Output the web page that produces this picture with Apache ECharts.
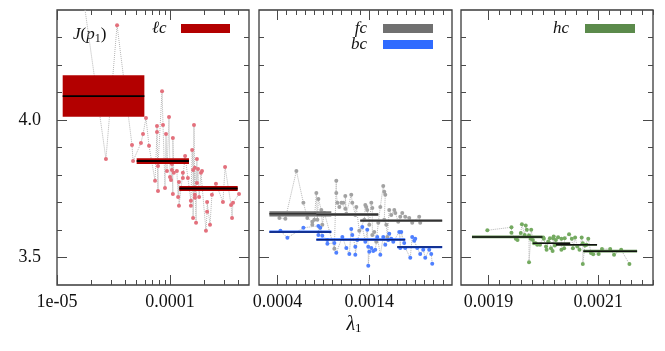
<!DOCTYPE html>
<html>
<head>
<meta charset="utf-8">
<script src="https://cdn.jsdelivr.net/npm/echarts@6/dist/echarts.min.js"></script>
<style>
html, body { margin: 0; padding: 0; background: #fff; }
#main { width: 665px; height: 351px; }
</style>
</head>
<body>
<div id="main"></div>
<script>
// J(p1) against lambda_1 for the lc, fc/bc and hc runs

// points: [lambda_1, J]
var lcPoints = [
  [1.6e-5,4.53],[2.71e-5,3.858],[3.40e-5,4.345],[4.61e-5,3.909],[4.71e-5,3.851],[5.53e-5,3.916],
  [5.77e-5,3.949],[6.13e-5,4.007],[6.52e-5,3.906],[7.37e-5,3.779],[7.67e-5,3.956],[7.67e-5,3.978],
  [7.83e-5,3.742],[7.83e-5,3.833],[8.50e-5,4.105],[8.67e-5,3.982],[9.03e-5,3.753],[9.22e-5,3.949],
  [9.40e-5,3.815],[9.80e-5,4.011],[1.00e-4,3.793],[1.02e-4,3.782],[1.04e-4,3.818],[1.04e-4,3.840],
  [1.06e-4,3.731],[1.06e-4,3.935],[1.08e-4,3.808],[1.15e-4,3.815],[1.18e-4,3.720],[1.20e-4,3.775],
  [1.20e-4,3.688],[1.30e-4,3.808],[1.30e-4,3.789],[1.36e-4,3.869],[1.44e-4,3.789],[1.53e-4,3.706],
  [1.53e-4,3.688],[1.57e-4,3.891],[1.60e-4,3.818],[1.60e-4,3.644],[1.63e-4,3.982],[1.66e-4,3.717],
  [1.66e-4,3.728],[1.66e-4,3.826],[1.70e-4,3.626],[1.73e-4,3.858],[1.73e-4,3.771],[1.77e-4,3.822],
  [1.81e-4,3.720],[1.88e-4,3.808],[1.92e-4,3.815],[2.08e-4,3.597],[2.13e-4,3.666],[2.13e-4,3.702],
  [2.26e-4,3.619],[2.35e-4,3.728],[2.55e-4,3.768],[2.94e-4,3.702],[3.07e-4,3.829],[3.47e-4,3.691],
  [3.54e-4,3.644],[3.61e-4,3.699],[4.08e-4,3.731]
];
var fcPoints = [
  [0.000422,3.644],[0.000487,3.641],[0.000607,3.815],[0.000683,3.699],[0.000726,3.644],[0.000780,3.630],
  [0.000780,3.619],[0.000802,3.637],[0.000824,3.735],[0.000835,3.637],[0.000846,3.713],[0.000878,3.673],
  [0.000889,3.619],[0.000911,3.662],[0.001020,3.532],[0.001041,3.779],[0.001041,3.735],[0.001052,3.699],
  [0.001074,3.684],[0.001096,3.699],[0.001117,3.699],[0.001139,3.677],[0.001139,3.724],[0.001150,3.659],
  [0.001204,3.728],[0.001215,3.699],[0.001248,3.655],[0.001259,3.684],[0.001291,3.597],[0.001346,3.637],
  [0.001357,3.691],[0.001367,3.684],[0.001378,3.673],[0.001400,3.619],[0.001422,3.699],[0.001433,3.680],
  [0.001433,3.582],[0.001454,3.593],[0.001476,3.557],[0.001498,3.626],[0.001520,3.684],[0.001552,3.760],
  [0.001563,3.739],[0.001574,3.728],[0.001563,3.637],[0.001585,3.619],[0.001596,3.575],[0.001617,3.673],
  [0.001639,3.655],[0.001672,3.673],[0.001683,3.662],[0.001715,3.630],[0.001737,3.648],[0.001759,3.662],
  [0.001791,3.648],[0.001835,3.644],[0.001867,3.626],[0.001943,3.648],[0.001954,3.626]
];
var bcPoints = [
  [0.000433,3.597],[0.000509,3.572],[0.000683,3.608],[0.000846,3.615],[0.000846,3.582],[0.000867,3.608],
  [0.000889,3.579],[0.000944,3.564],[0.000944,3.550],[0.001020,3.553],[0.001041,3.517],[0.001107,3.575],
  [0.001150,3.535],[0.001183,3.513],[0.001204,3.604],[0.001215,3.582],[0.001248,3.539],[0.001248,3.510],
  [0.001270,3.564],[0.001324,3.611],[0.001357,3.557],[0.001378,3.601],[0.001389,3.539],[0.001389,3.470],
  [0.001400,3.521],[0.001422,3.535],[0.001443,3.524],[0.001465,3.528],[0.001487,3.575],[0.001520,3.510],
  [0.001552,3.575],[0.001574,3.546],[0.001607,3.564],[0.001617,3.586],[0.001639,3.568],[0.001661,3.557],
  [0.001726,3.593],[0.001737,3.535],[0.001748,3.593],[0.001780,3.553],[0.001791,3.535],[0.001846,3.499],
  [0.001867,3.575],[0.001889,3.561],[0.001900,3.568],[0.001922,3.535],[0.001954,3.513],[0.001987,3.528],
  [0.002009,3.499],[0.002052,3.528],[0.002074,3.513],[0.002085,3.477]
];
var hcPoints = [
  [0.001898,3.599],[0.001942,3.610],[0.001942,3.590],[0.001950,3.568],[0.001953,3.564],[0.001959,3.589],
  [0.001961,3.621],[0.001966,3.582],[0.001968,3.616],[0.001970,3.601],[0.001974,3.580],[0.001974,3.483],
  [0.001977,3.568],[0.001978,3.601],[0.001981,3.564],[0.001983,3.552],[0.001986,3.552],[0.001989,3.546],
  [0.001994,3.546],[0.002000,3.573],[0.002001,3.568],[0.002005,3.540],[0.002006,3.528],[0.002009,3.558],
  [0.002012,3.570],[0.002014,3.534],[0.002017,3.524],[0.002018,3.570],[0.002019,3.576],[0.002021,3.544],
  [0.002023,3.564],[0.002027,3.574],[0.002033,3.568],[0.002033,3.528],[0.002038,3.534],[0.002039,3.570],
  [0.002047,3.585],[0.002052,3.568],[0.002054,3.534],[0.002058,3.573],[0.002062,3.540],[0.002066,3.528],
  [0.002070,3.573],[0.002072,3.552],[0.002072,3.476],[0.002076,3.544],[0.002079,3.546],[0.002082,3.568],
  [0.002087,3.516],[0.002091,3.512],[0.002101,3.513],[0.002107,3.531],[0.002122,3.531],[0.002129,3.510],
  [0.002142,3.528],[0.002157,3.476]
];

// bins: [from, to, low, mean, high]
var lcBins = [
  [1.123e-5, 5.93e-5, 4.012, 4.087, 4.163],
  [5.07e-5, 1.472e-4, 3.840, 3.851, 3.861],
  [1.208e-4, 3.97e-4, 3.742, 3.751, 3.760]
];
var fcBins = [
  [0.000313, 0.000987, 3.649, 3.659, 3.668],
  [0.000824, 0.001498, 3.651, 3.656, 3.662],
  [0.001302, 0.002193, 3.630, 3.634, 3.639]
];
var bcBins = [
  [0.000313, 0.000987, 3.589, 3.593, 3.598],
  [0.000824, 0.001791, 3.561, 3.565, 3.570],
  [0.001704, 0.002193, 3.534, 3.538, 3.542]
];
var hcBins = [
  [0.001870, 0.0019985, 3.570, 3.575, 3.580],
  [0.001981, 0.002049, 3.549, 3.552, 3.555],
  [0.002023, 0.002098, 3.543, 3.546, 3.549],
  [0.002073, 0.002171, 3.518, 3.523, 3.528]
];

// ticks
var yTicks = [3.5, 4.0];
var yTickLabels = ['3.5', '4.0'];
var yMinor = [3.5, 3.6, 3.7, 3.8, 3.9, 4.0, 4.1, 4.2, 4.3];
var x1Ticks = [1e-5, 1e-4];
var x1TickLabels = ['1e-05', '0.0001'];
var x1Minor = [2e-5,3e-5,4e-5,5e-5,6e-5,7e-5,8e-5,9e-5,2e-4,3e-4,4e-4];
var x2Ticks = [0.0004, 0.0014];
var x2TickLabels = ['0.0004', '0.0014'];
var x3Ticks = [0.0019, 0.0021];
var x3TickLabels = ['0.0019', '0.0021'];

var x2Minor = [];
for (var k = 4; k <= 22; k++) x2Minor.push(k / 10000);
var x3Minor = [];
for (var k = 95; k <= 110; k++) x3Minor.push(k * 2 / 100000);

var serif = 'Liberation Serif';
var grids = [
  { left: 57, top: 10, width: 192, height: 275 },
  { left: 259, top: 10, width: 193, height: 275 },
  { left: 461, top: 10, width: 192, height: 275 }
];
var xSpec = [
  { type: 'log', min: 1e-5, max: 5e-4, major: x1Ticks, labels: x1TickLabels, minor: x1Minor },
  { type: 'value', min: 0.0002, max: 0.0023, major: x2Ticks, labels: x2TickLabels, minor: x2Minor },
  { type: 'value', min: 0.00185, max: 0.0022, major: x3Ticks, labels: x3TickLabels, minor: x3Minor }
];

function tickAxis(dim, grid, type, min, max, values, len, pos, labels) {
  var ax = {
    type: type, gridIndex: grid, min: min, max: max, position: pos,
    axisLine: { show: false, onZero: false },
    splitLine: { show: false },
    axisTick: { show: true, inside: true, length: len, customValues: values,
      lineStyle: { color: '#4a4a4a', width: 1 } },
    axisLabel: { show: false }
  };
  if (type === 'log') ax.logBase = 10;
  if (labels) {
    ax.axisLabel = {
      show: true, customValues: values, margin: dim === 'x' ? 8 : 16,
      color: '#111', fontFamily: serif, fontSize: 18,
      formatter: function (v) {
        for (var i = 0; i < values.length; i++) {
          if (Math.abs(values[i] - v) <= Math.abs(values[i]) * 1e-6) return labels[i];
        }
        return '';
      }
    };
  }
  return ax;
}

var xAxes = [], yAxes = [];
for (var g = 0; g < 3; g++) {
  var s = xSpec[g];
  xAxes.push(tickAxis('x', g, s.type, s.min, s.max, s.major, 10, 'bottom', s.labels));
  xAxes.push(tickAxis('x', g, s.type, s.min, s.max, s.minor, 5, 'bottom'));
  xAxes.push(tickAxis('x', g, s.type, s.min, s.max, s.major, 10, 'top'));
  xAxes.push(tickAxis('x', g, s.type, s.min, s.max, s.minor, 5, 'top'));
  yAxes.push(tickAxis('y', g, 'value', 3.4, 4.4, yTicks, 10, 'left', g === 0 ? yTickLabels : null));
  yAxes.push(tickAxis('y', g, 'value', 3.4, 4.4, yMinor, 5, 'left'));
  yAxes.push(tickAxis('y', g, 'value', 3.4, 4.4, yTicks, 10, 'right'));
  yAxes.push(tickAxis('y', g, 'value', 3.4, 4.4, yMinor, 5, 'right'));
}

function pointSeries(g, data, color) {
  return {
    type: 'line', xAxisIndex: 4 * g, yAxisIndex: 4 * g, data: data,
    symbol: 'circle', symbolSize: 4, showSymbol: true, clip: true,
    itemStyle: { color: color },
    lineStyle: { color: '#b5b5b5', width: 1, type: 'dotted' },
    z: 2
  };
}

function binSeries(g, data, fill, midColor, midWidth) {
  return {
    type: 'custom', xAxisIndex: 4 * g, yAxisIndex: 4 * g, data: data,
    encode: { x: [0, 1], y: [2, 3, 4] },
    z: 5,
    renderItem: function (params, api) {
      var a = api.coord([api.value(0), api.value(4)]);
      var b = api.coord([api.value(1), api.value(2)]);
      var m1 = api.coord([api.value(0), api.value(3)]);
      var m2 = api.coord([api.value(1), api.value(3)]);
      return {
        type: 'group',
        children: [
          { type: 'rect', shape: { x: a[0], y: a[1], width: b[0] - a[0], height: b[1] - a[1] },
            style: { fill: fill } },
          { type: 'line', shape: { x1: m1[0], y1: m1[1], x2: m2[0], y2: m2[1] },
            style: { stroke: midColor, lineWidth: midWidth } }
        ]
      };
    }
  };
}

var red = '#b30000', gray = '#707070', blue = '#2f6bff', green = '#5b8a4b';
var legendFont = { fontFamily: serif, fontStyle: 'italic', fontSize: 17, fill: '#111' };

function label(text, x, y, align) {
  return {
    type: 'text', x: x, y: y,
    style: Object.assign({ text: text, align: align || 'left', verticalAlign: 'middle' }, legendFont)
  };
}

var chart = echarts.init(document.getElementById('main'));
chart.setOption({
  animation: false,
  backgroundColor: '#fff',
  grid: grids.map(function (r) {
    return Object.assign({ show: true, borderColor: '#3a3a3a', borderWidth: 1.3,
      backgroundColor: 'transparent' }, r);
  }),
  xAxis: xAxes,
  yAxis: yAxes,
  series: [
    pointSeries(0, lcPoints, '#e3707c'),
    pointSeries(1, fcPoints, '#a2a2a2'),
    pointSeries(1, bcPoints, '#4f80ff'),
    pointSeries(2, hcPoints, '#74aa60'),
    binSeries(0, lcBins, red, '#000', 1.8),
    binSeries(1, fcBins, gray, '#333', 1.5),
    binSeries(1, bcBins, blue, '#0b1f70', 1.5),
    binSeries(2, hcBins, green, '#111', 1.5)
  ],
  graphic: [
    {
      type: 'text', x: 73, y: 35,
      style: {
        text: '{i|J}{n|(}{i|p}{s|1}{n|)}', verticalAlign: 'middle',
        rich: {
          i: { fontFamily: serif, fontStyle: 'italic', fontSize: 17, fill: '#111' },
          n: { fontFamily: serif, fontSize: 17, fill: '#111' },
          s: { fontFamily: serif, fontSize: 12, fill: '#111', padding: [7, 0, 0, 0] }
        }
      }
    },
    label('ℓc', 152, 29),
    { type: 'rect', shape: { x: 181, y: 24, width: 49, height: 9 }, style: { fill: red } },
    label('fc', 367, 29, 'right'),
    { type: 'rect', shape: { x: 383, y: 24, width: 50, height: 9 }, style: { fill: gray } },
    label('bc', 367, 45, 'right'),
    { type: 'rect', shape: { x: 383, y: 40, width: 50, height: 9 }, style: { fill: blue } },
    label('hc', 569, 29, 'right'),
    { type: 'rect', shape: { x: 585, y: 24, width: 50, height: 9 }, style: { fill: green } },
    {
      type: 'text', x: 354, y: 325,
      style: {
        text: '{i|λ}{s|1}', align: 'center', verticalAlign: 'middle',
        rich: {
          i: { fontFamily: serif, fontStyle: 'italic', fontSize: 20, fill: '#111' },
          s: { fontFamily: serif, fontSize: 13, fill: '#111', padding: [8, 0, 0, 0] }
        }
      }
    }
  ]
});
</script>
</body>
</html>
